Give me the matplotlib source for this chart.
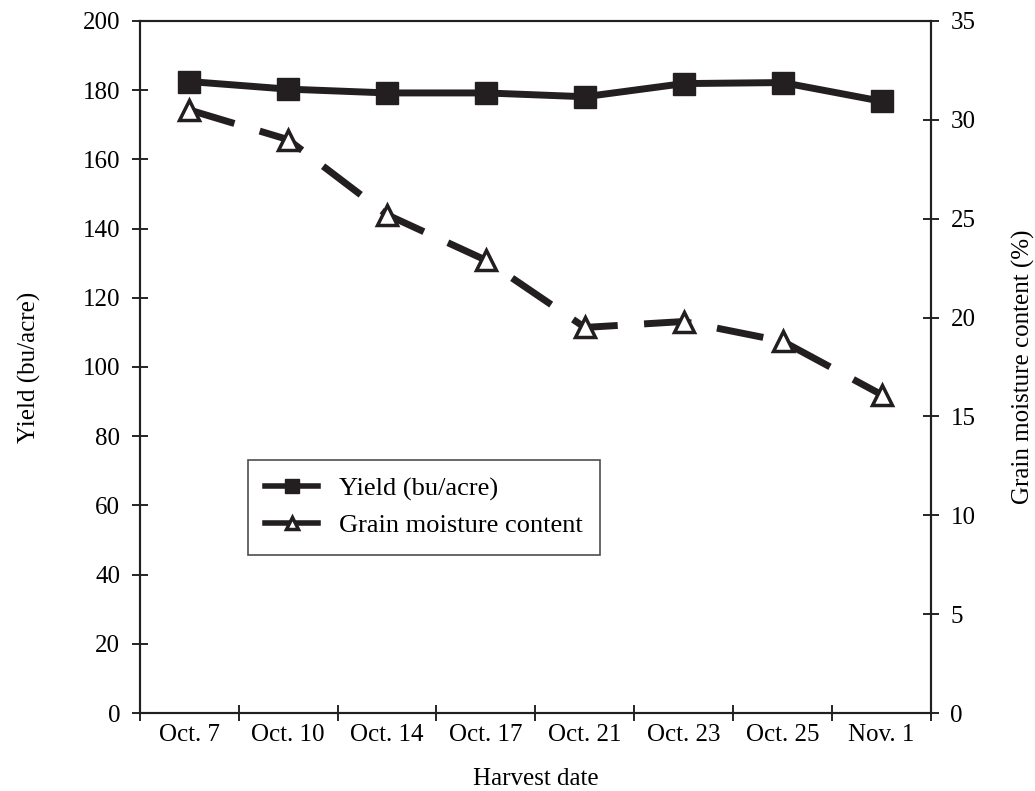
import matplotlib
matplotlib.use('Agg')
import matplotlib.pyplot as plt
import numpy as np

plt.rcParams['font.family'] = ['Liberation Serif', 'DejaVu Serif']

dates = ['Oct. 7', 'Oct. 10', 'Oct. 14', 'Oct. 17', 'Oct. 21', 'Oct. 23', 'Oct. 25', 'Nov. 1']
yield_bu = [182.5, 180.3, 179.2, 179.2, 178.1, 181.9, 182.2, 176.8]
moisture = [30.5, 29.0, 25.2, 22.9, 19.5, 19.8, 18.8, 16.1]


def main():
	fig = plt.figure(figsize=(10.35, 7.91), dpi=100)
	ax = fig.add_axes([0.135, 0.0986, 0.7645, 0.8749])
	ax2 = ax.twinx()

	x = np.arange(len(dates))

	#
	# yield on left axis
	#
	l1, = ax.plot(x, yield_bu, color='#231f20', lw=5, marker='s', ms=16,
				  mfc='#231f20', mec='#231f20', label='Yield (bu/acre)', zorder=3)

	#
	# moisture on right axis
	#
	l2, = ax2.plot(x, moisture, color='#231f20', lw=5, marker='^', ms=15,
				   mfc='white', mec='#231f20', mew=2.5, label='Grain moisture content')
	l2.set_dashes((6.8, 3.8))

	ax.set_xlim(-0.5, len(dates) - 0.5)
	ax.set_ylim(0, 200)
	ax2.set_ylim(0, 35)

	ax.set_yticks(np.arange(0, 201, 20))
	ax2.set_yticks(np.arange(0, 36, 5))

	# boundary ticks, labels centred under each date
	ax.set_xticks(np.arange(-0.5, len(dates), 1.0))
	ax.set_xticklabels([])
	ax.set_xticks(x, minor=True)
	ax.set_xticklabels(dates, minor=True)
	ax.tick_params(axis='x', which='minor', length=0, pad=8, labelsize=18)
	ax.tick_params(axis='x', which='major', direction='inout', length=12, width=1.2)
	ax.tick_params(axis='y', direction='inout', length=12, width=1.2, labelsize=18, pad=8)
	ax2.tick_params(axis='y', direction='inout', length=12, width=1.2, labelsize=18, pad=8)

	for a in (ax, ax2):
		for s in a.spines.values():
			s.set_linewidth(1.5)
			s.set_color('#231f20')

	ax.set_xlabel('Harvest date', fontsize=18, labelpad=16)
	ax.set_ylabel('Yield (bu/acre)', fontsize=18, labelpad=30)
	ax2.set_ylabel('Grain moisture content (%)', fontsize=18, labelpad=26)

	leg = ax.legend([l1, l2], [l1.get_label(), l2.get_label()],
					loc='upper left', bbox_to_anchor=(0.137, 0.366),
					fontsize=19, frameon=True, fancybox=False, edgecolor='#231f20',
					handlelength=2.0, handletextpad=0.8, borderpad=0.65,
					labelspacing=0.5, markerscale=0.6, borderaxespad=0)
	leg.get_frame().set_linewidth(1.2)
	leg.set_zorder(5)
	for h in leg.get_lines():
		h.set_linestyle('-')
		h.set_linewidth(4)

	fig.savefig('out.png', dpi=100)


if __name__ == "__main__":
	main()
